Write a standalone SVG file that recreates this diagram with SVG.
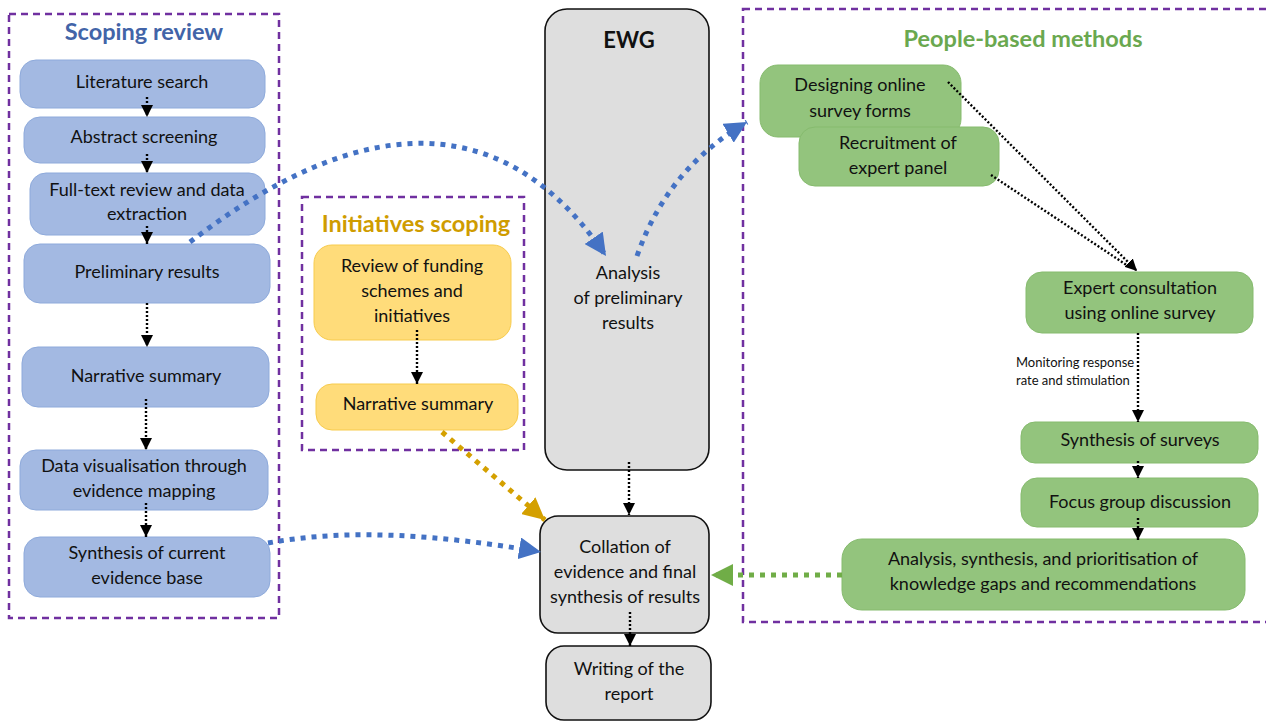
<svg xmlns="http://www.w3.org/2000/svg" width="1266" height="722" viewBox="0 0 1266 722">
<defs>
<style>
text{font-family:Lato,"Open Sans","Liberation Sans",sans-serif;font-size:18px;fill:#111;text-anchor:middle}
.title{font-weight:bold;font-size:23.5px}
.grp{fill:none;stroke:#7030a0;stroke-width:2.5;stroke-dasharray:7 5}
.blue{fill:#a3b9e2;stroke:#8eaadb;stroke-width:1}
.gold{fill:#ffdc7a;stroke:#f7cb4d;stroke-width:1}
.green{fill:#93c47d;stroke:#86bb6e;stroke-width:1}
.grey{fill:#dedede;stroke:#111;stroke-width:1.6}
.dot{fill:none;stroke:#000;stroke-width:2.4;stroke-dasharray:2 2}
.bl{fill:none;stroke:#4472c4;stroke-width:5;stroke-dasharray:5 6}
.gd{fill:none;stroke:#d4a000;stroke-width:5;stroke-dasharray:5 6}
.gr{fill:none;stroke:#70ad47;stroke-width:5;stroke-dasharray:5 6}
.small{font-size:13px;text-anchor:start}
</style>
<marker id="ak" viewBox="0 0 10 10" refX="10" refY="5" markerWidth="12" markerHeight="12" markerUnits="userSpaceOnUse" orient="auto"><path d="M0,0L10,5L0,10z" fill="#000"/></marker>
<marker id="ab" viewBox="0 0 10 10" refX="10" refY="5" markerWidth="22" markerHeight="22" markerUnits="userSpaceOnUse" orient="auto"><path d="M0,0L10,5L0,10z" fill="#4472c4"/></marker>
<marker id="ag" viewBox="0 0 10 10" refX="10" refY="5" markerWidth="22" markerHeight="22" markerUnits="userSpaceOnUse" orient="auto"><path d="M0,0L10,5L0,10z" fill="#d4a000"/></marker>
<marker id="agr" viewBox="0 0 10 10" refX="10" refY="5" markerWidth="22" markerHeight="22" markerUnits="userSpaceOnUse" orient="auto"><path d="M0,0L10,5L0,10z" fill="#70ad47"/></marker>
</defs>
<rect width="1266" height="722" fill="#fff"/>

<g id="groups">
<rect class="grp" x="9" y="14" width="270" height="604"/>
<text class="title" x="144" y="40" style="fill:#4264a8">Scoping review</text>
<rect class="grp" x="302" y="197" width="222" height="253"/>
<text class="title" x="416" y="232" style="fill:#cf9c00">Initiatives scoping</text>
<rect class="grp" x="743" y="9" width="540" height="613"/>
<text class="title" x="1023" y="47" style="fill:#6aa84f">People-based methods</text>
</g>

<g id="n-lit"><rect class="blue" x="20" y="60" width="245" height="48" rx="16"/><text x="142" y="88">Literature search</text></g>
<g id="n-abs"><rect class="blue" x="24" y="117" width="241" height="46" rx="16"/><text x="144" y="143">Abstract screening</text></g>
<g id="n-full"><rect class="blue" x="30" y="173" width="235" height="62" rx="16"/><text x="147" y="196">Full-text review and data</text><text x="147" y="220">extraction</text></g>
<g id="n-prelim"><rect class="blue" x="24" y="244" width="246" height="59" rx="16"/><text x="147" y="278">Preliminary results</text></g>
<g id="n-narr1"><rect class="blue" x="22" y="347" width="247" height="60" rx="16"/><text x="146" y="382">Narrative summary</text></g>
<g id="n-vis"><rect class="blue" x="20" y="450" width="248" height="60" rx="16"/><text x="144" y="472">Data visualisation through</text><text x="144" y="497">evidence mapping</text></g>
<g id="n-synth"><rect class="blue" x="24" y="537" width="246" height="60" rx="16"/><text x="147" y="559">Synthesis of current</text><text x="147" y="584">evidence base</text></g>

<g id="n-review"><rect class="gold" x="314" y="245" width="197" height="95" rx="18"/><text x="412" y="272">Review of funding</text><text x="412" y="297">schemes and</text><text x="412" y="322">initiatives</text></g>
<g id="n-narr2"><rect class="gold" x="316" y="384" width="202" height="46" rx="16"/><text x="418" y="410">Narrative summary</text></g>

<g id="n-ewg"><rect class="grey" x="545" y="9" width="164" height="461" rx="22"/><text x="629" y="48" style="font-weight:bold;font-size:22px">EWG</text><text x="628" y="279">Analysis</text><text x="628" y="304">of preliminary</text><text x="628" y="329">results</text></g>
<g id="n-coll"><rect class="grey" x="540" y="516" width="169" height="117" rx="18"/><text x="625" y="553">Collation of</text><text x="625" y="578">evidence and final</text><text x="625" y="603">synthesis of results</text></g>
<g id="n-write"><rect class="grey" x="546" y="646" width="165" height="74" rx="18"/><text x="629" y="675">Writing of the</text><text x="629" y="700">report</text></g>

<g id="n-design"><rect class="green" x="760" y="65" width="201" height="72" rx="18"/><text x="860" y="91">Designing online</text><text x="860" y="117">survey forms</text></g>
<g id="n-recruit"><rect class="green" x="799" y="127" width="200" height="59" rx="16"/><text x="898" y="149">Recruitment of</text><text x="898" y="174">expert panel</text></g>
<g id="n-expert"><rect class="green" x="1026" y="272" width="227" height="61" rx="16"/><text x="1140" y="294">Expert consultation</text><text x="1140" y="319">using online survey</text></g>
<g id="n-surv"><rect class="green" x="1021" y="422" width="237" height="41" rx="14"/><text x="1140" y="446">Synthesis of surveys</text></g>
<g id="n-focus"><rect class="green" x="1021" y="478" width="237" height="49" rx="16"/><text x="1140" y="508">Focus group discussion</text></g>
<g id="n-anal"><rect class="green" x="842" y="539" width="403" height="71" rx="20"/><text x="1043" y="565">Analysis, synthesis, and prioritisation of</text><text x="1043" y="590">knowledge gaps and recommendations</text></g>

<g id="connectors">
<path class="dot" d="M147,97V117" marker-end="url(#ak)"/>
<path class="dot" d="M147,154V173" marker-end="url(#ak)"/>
<path class="dot" d="M147,226V244" marker-end="url(#ak)"/>
<path class="dot" d="M147,303V347" marker-end="url(#ak)"/>
<path class="dot" d="M146,399V450" marker-end="url(#ak)"/>
<path class="dot" d="M146,503V537" marker-end="url(#ak)"/>
<path class="dot" d="M417,330V384" marker-end="url(#ak)"/>
<path class="dot" d="M629,462V515" marker-end="url(#ak)"/>
<path class="dot" d="M630,612V646" marker-end="url(#ak)"/>
<path class="dot" d="M948,82L1137,271" marker-end="url(#ak)"/>
<path class="dot" d="M991,175L1128,266"/>
<path class="dot" d="M1138,333V422" marker-end="url(#ak)"/>
<path class="dot" d="M1138,461V478" marker-end="url(#ak)"/>
<path class="dot" d="M1138,518V540" marker-end="url(#ak)"/>
<text class="small" x="1016" y="367">Monitoring response</text>
<text class="small" x="1016" y="385">rate and stimulation</text>
<path class="bl" d="M190,242C310,150 480,70 606,256" marker-end="url(#ab)"/>
<path class="bl" d="M637,256C660,190 700,150 747,122" marker-end="url(#ab)"/>
<path class="bl" d="M268,543C350,528 440,535 541,552" marker-end="url(#ab)"/>
<path class="gd" d="M442,432L545,520" marker-end="url(#ag)"/>
<path class="gr" d="M842,575H711" marker-end="url(#agr)"/>
</g>
</svg>
